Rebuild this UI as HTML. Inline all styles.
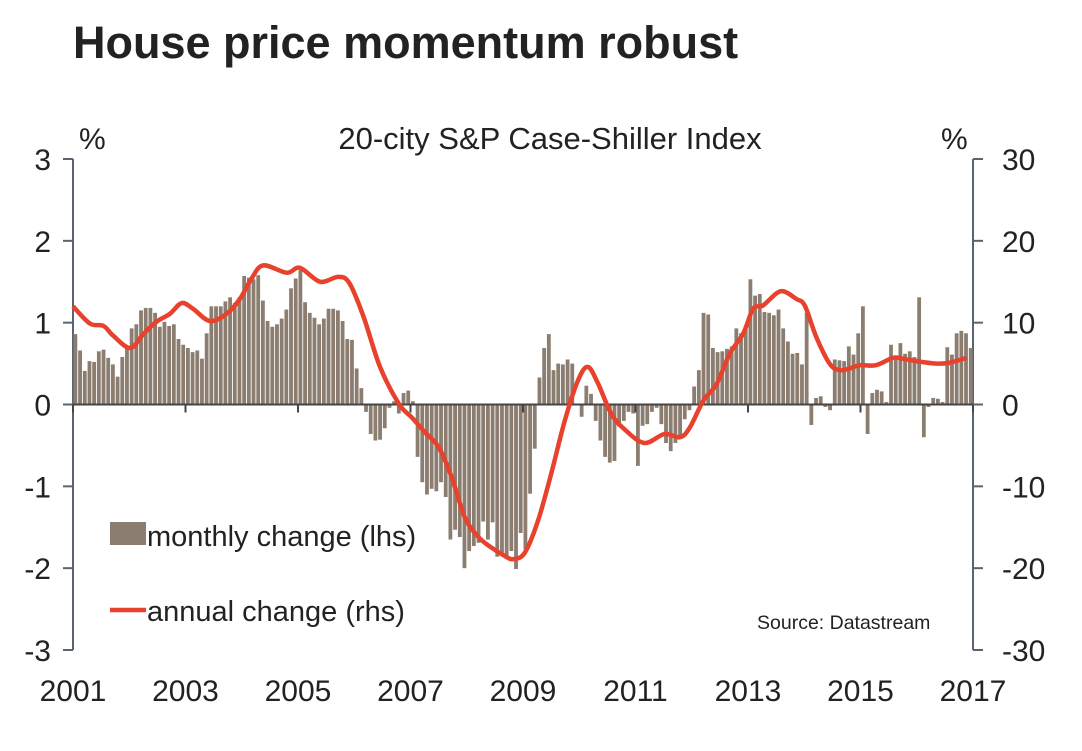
<!DOCTYPE html>
<html><head><meta charset="utf-8"><style>
body{margin:0;background:#fff;width:1082px;height:746px;overflow:hidden;font-family:"Liberation Sans",Arial,sans-serif}
svg text{font-family:"Liberation Sans",Arial,sans-serif;fill:#222}
</style></head><body>
<svg id="chart" width="1082" height="746">
<text x="73" y="58" font-size="45" font-weight="bold" fill="#333">House price momentum robust</text>
<text x="550" y="149" font-size="31" text-anchor="middle">20-city S&amp;P Case-Shiller Index</text>
<text x="79" y="149" font-size="30">%</text>
<text x="941" y="149" font-size="30">%</text>
<g id="axes"></g>
<g id="bars"></g>
<path id="line" fill="none" stroke="#e8412c" stroke-width="4.5" stroke-linejoin="round"></path>
<g>
<rect x="110" y="522" width="36" height="23" fill="#8b7d70"></rect>
<text x="147" y="546" font-size="29">monthly change (lhs)</text>
<line x1="110" y1="610" x2="146" y2="610" stroke="#e8412c" stroke-width="4.5"></line>
<text x="147" y="621" font-size="29">annual change (rhs)</text>
</g>
<text x="757" y="629" font-size="19.5">Source: Datastream</text>
</svg>
<script>
const monthly=[0.86,0.66,0.41,0.53,0.52,0.65,0.67,0.57,0.49,0.34,0.58,0.70,0.93,0.98,1.15,1.18,1.18,1.12,0.95,1.01,0.96,0.98,0.80,0.73,0.69,0.64,0.66,0.56,0.87,1.2,1.2,1.2,1.26,1.31,1.24,1.31,1.57,1.55,1.53,1.58,1.27,1.02,0.95,0.98,1.05,1.16,1.42,1.54,1.64,1.25,1.12,1.06,0.98,1.05,1.17,1.17,1.15,1.02,0.80,0.79,0.44,0.20,-0.09,-0.36,-0.44,
-0.43,-0.29,-0.04,0.04,-0.11,0.14,0.17,0.04,-0.64,-0.95,-1.10,-1.03,-1.06,-0.95,-1.13,-1.65,-1.53,-1.62,-2.0,-1.79,-1.73,-1.69,-1.43,-1.65,-1.44,-1.86,-1.85,-1.89,-1.79,-2.01,-1.57,-1.77,-1.09,-0.54,0.33,0.69,0.86,0.42,0.50,0.49,0.55,0.50,-0.01,-0.15,0.23,0.13,-0.20,-0.44,-0.64,-0.71,-0.69,-0.27,-0.20,-0.09,-0.11,-0.75,-0.26,-0.24,-0.09,-0.04,-0.24,-0.47,-0.57,-0.47,-0.41,
-0.18,-0.07,0.22,0.42,1.12,1.10,0.69,0.64,0.65,0.68,0.71,0.93,0.87,0.96,1.53,1.33,1.35,1.13,1.12,1.09,1.16,0.93,0.77,0.62,0.63,0.49,1.12,-0.25,0.08,0.10,-0.03,-0.07,0.55,0.54,0.53,0.71,0.61,0.87,1.20,-0.36,0.14,0.18,0.16,0.03,0.73,0.59,0.75,0.62,0.65,0.58,1.31,-0.40,-0.03,0.08,0.07,0.03,0.70,0.61,0.87,0.90,0.87,0.69];
const annualMonths=[0,3.6,6.5,8.6,12.2,15,17.8,20.7,23.2,25.6,29.2,32.8,35.6,38.1,40.6,45.6,48.4,52.7,56.6,59,62,65.5,69.5,72.3,75.1,78,80.8,83.6,86.5,89.3,92.1,93.9,96.4,99.2,102,104.9,107.7,109.8,111.9,114.8,117.6,121.9,126.2,129.5,131.6,134.5,137.3,140.1,143,145.1,147.2,150.1,151.8,154.3,156.1,158.6,161.4,163.5,165.7,167.8,171.3,174.9,177,179.9,184.2,187,190.6];
const annualValues=[12.0,9.9,9.6,8.4,6.9,8.6,10.1,11.1,12.4,11.7,10.2,11.1,12.9,15.4,17.0,16.1,16.7,15.0,15.6,14.8,10.7,4.6,0.1,-1.6,-3.4,-5.2,-8.9,-13.8,-16.2,-17.5,-18.5,-18.9,-18.1,-14.2,-8.5,-2.0,2.9,4.6,2.7,-1.1,-3.0,-4.7,-3.6,-4.0,-2.8,0.5,2.5,6.2,8.7,11.7,12.1,13.6,13.8,12.9,12.1,8.2,5.0,4.2,4.4,4.8,4.8,5.7,5.6,5.3,5.0,5.1,5.7];
const leftTicks=[3,2,1,0,-1,-2,-3];
const rightTicks=[30,20,10,0,-10,-20,-30];
const yearLabels=["2001","2003","2005","2007","2009","2011","2013","2015","2017"];
const X0=73,X1=973,Y0=159,Y1=650;
const xM=m=>X0+(X1-X0)*m/192;
const yL=v=>Y0+(3-v)*(Y1-Y0)/6;
const yR=v=>Y0+(30-v)*(Y1-Y0)/60;
const NS="http://www.w3.org/2000/svg";
function mk(t,a,p){const e=document.createElementNS(NS,t);for(const k in a)e.setAttribute(k,a[k]);p.appendChild(e);return e;}
const ax=document.getElementById('axes');
let e=mk('line',{x1:X0,y1:Y0,x2:X0,y2:Y1,stroke:'#5a6470','stroke-width':2},ax);

e=mk('line',{x1:X1,y1:Y0,x2:X1,y2:Y1,stroke:'#5a6470','stroke-width':2},ax);

leftTicks.forEach(v=>{const y=yL(v);
 mk('line',{x1:X0-10,y1:y,x2:X0,y2:y,stroke:'#5a6470','stroke-width':2},ax);
 const t=mk('text',{x:X0-22,y:y+11,'font-size':30,'text-anchor':'end'},ax);t.textContent=v;
 });
rightTicks.forEach(v=>{const y=yR(v);
 mk('line',{x1:X1,y1:y,x2:X1+10,y2:y,stroke:'#5a6470','stroke-width':2},ax);
 const t=mk('text',{x:X1+29,y:y+11,'font-size':30},ax);t.textContent=v;
 });
const bg=document.getElementById('bars');
monthly.forEach((v,i)=>{const x=xM(i)+0.5,y0=yL(0),y=yL(v);
 const r=mk('rect',{x:x,y:Math.min(y,y0),width:3.8,height:Math.abs(y-y0),fill:'#8b7d70'},bg);
 });
e=mk('line',{x1:X0,y1:yL(0),x2:X1,y2:yL(0),stroke:'#444','stroke-width':2},ax);
ax.parentNode.appendChild(e);

yearLabels.forEach((s,i)=>{const x=xM(i*24);
 const tk=mk('line',{x1:x,y1:yL(0),x2:x,y2:yL(0)+8,stroke:'#444','stroke-width':2},ax.parentNode);
 const t=mk('text',{x:x,y:701,'font-size':30,'text-anchor':'middle'},ax);t.textContent=s;
 });
const pts=annualMonths.map((m,i)=>[xM(m),yR(annualValues[i])]);
let d='M'+pts[0][0]+','+pts[0][1];
for(let i=0;i<pts.length-1;i++){const p0=pts[Math.max(0,i-1)],p1=pts[i],p2=pts[i+1],p3=pts[Math.min(pts.length-1,i+2)];
 d+=' C'+(p1[0]+(p2[0]-p0[0])/6)+','+(p1[1]+(p2[1]-p0[1])/6)+' '+(p2[0]-(p3[0]-p1[0])/6)+','+(p2[1]-(p3[1]-p1[1])/6)+' '+p2[0]+','+p2[1];}
const ln=document.getElementById('line');ln.setAttribute('d',d);
ln.parentNode.appendChild(ln);
</script>
</body></html>
